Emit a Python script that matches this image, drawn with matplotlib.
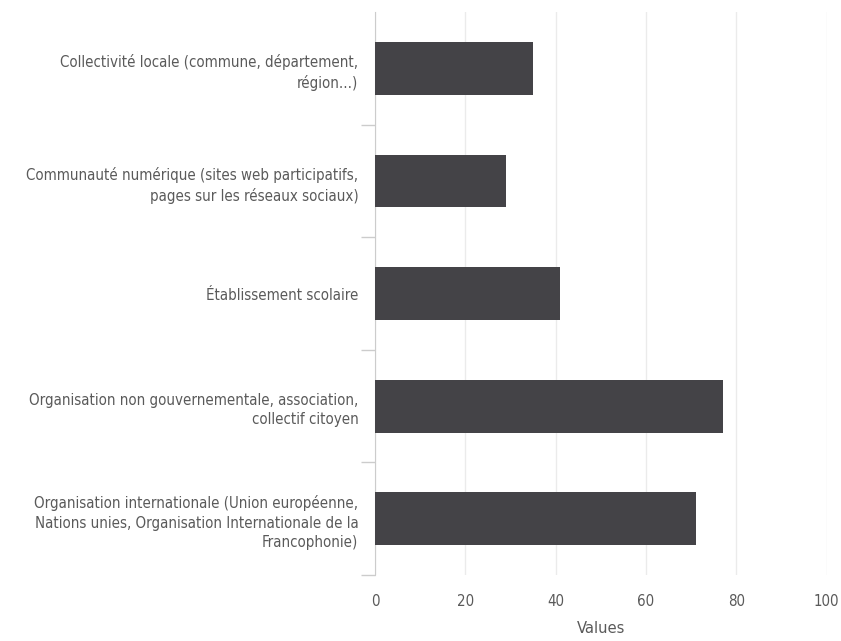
import matplotlib
matplotlib.use("Agg")
import matplotlib.pyplot as plt
import numpy as np

# data
categories = [
    "Collectivité locale (commune, département,\nrégion...)",
    "Communauté numérique (sites web participatifs,\npages sur les réseaux sociaux)",
    "Établissement scolaire",
    "Organisation non gouvernementale, association,\ncollectif citoyen",
    "Organisation internationale (Union européenne,\nNations unies, Organisation Internationale de la\nFrancophonie)",
]
values = [35, 29, 41, 77, 71]
xticks = [0, 20, 40, 60, 80, 100]

plt.rcParams['font.family'] = ['DejaVu Sans']
plt.rcParams['font.stretch'] = 'condensed'

fig = plt.figure(figsize=(8.41, 6.41), dpi=100)
ax = fig.add_axes([0.446, 0.103, 0.537, 0.878])

y = np.arange(len(categories))
ax.barh(y, values, height=0.47, color='#444347', zorder=3)

ax.set_ylim(len(categories) - 0.5, -0.5)
ax.set_xlim(0, 100)

# category labels, no tick marks at the bar centres
ax.set_yticks(y)
ax.set_yticklabels(categories, fontsize=10.8, color='#5a5a5a', linespacing=1.4,
                   fontstretch='condensed')
ax.tick_params(axis='y', length=0, pad=12)
# small marks between the categories
ax.set_yticks(np.arange(len(categories)) + 0.5, minor=True)
ax.tick_params(axis='y', which='minor', length=10, color='#cccccc', width=1)

ax.set_xticks(xticks)
ax.set_xticklabels([str(t) for t in xticks], fontsize=10.8, color='#5a5a5a',
                   fontstretch='condensed')
ax.tick_params(axis='x', length=0, pad=14)
ax.grid(axis='x', color='#ebebeb', linewidth=1, zorder=0)

ax.set_xlabel('Values', fontsize=11.8, color='#5a5a5a', labelpad=8,
              fontstretch='condensed')

for side in ['top', 'right', 'bottom']:
    ax.spines[side].set_visible(False)
ax.spines['left'].set_color('#cccccc')

fig.savefig('out.png', dpi=100, facecolor='white')
